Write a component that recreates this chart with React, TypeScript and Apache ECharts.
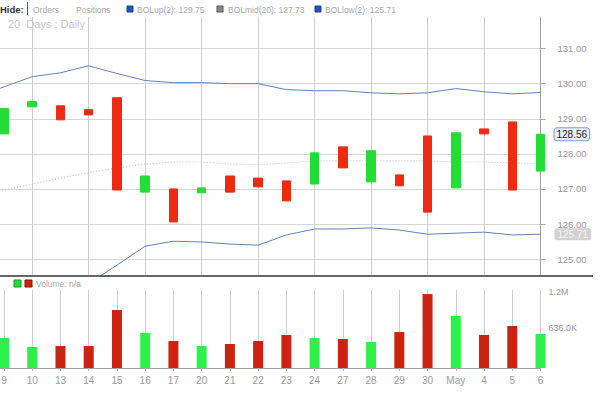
import React, { useEffect, useRef } from "react";
import * as echarts from "echarts";

const categories = ["8", "9", "10", "13", "14", "15", "16", "17", "20", "21", "22", "23", "24", "27", "28", "29", "30", "May", "4", "5", "6"];

const opens = [null, 128.57, 129.34, 129.37, 129.26, 129.6, 126.91, 127.0, 126.89, 127.37, 127.31, 127.23, 127.14, 128.2, 127.2, 127.4, 128.51, 127.03, 128.71, 128.91, 127.51];
const closes = [null, 129.29, 129.49, 128.97, 129.11, 126.97, 127.37, 126.06, 127.03, 126.91, 127.06, 126.66, 128.03, 127.6, 128.09, 127.09, 126.34, 128.6, 128.57, 126.97, 128.56];
const lows = [null, 128.57, 129.34, 128.97, 129.11, 126.97, 126.91, 126.06, 126.89, 126.91, 127.06, 126.66, 127.14, 127.6, 127.2, 127.09, 126.34, 127.03, 128.57, 126.97, 127.51];
const highs = [null, 129.29, 129.49, 129.37, 129.26, 129.6, 127.37, 127.0, 127.03, 127.37, 127.31, 127.23, 128.03, 128.2, 128.09, 127.4, 128.51, 128.6, 128.71, 128.91, 128.56];

const bolUp = [129.63, 129.91, 130.2, 130.31, 130.51, 130.29, 130.09, 130.03, 130.03, 130.0, 130.0, 129.83, 129.8, 129.8, 129.74, 129.71, 129.74, 129.86, 129.77, 129.71, 129.75];
const bolMid = [126.8, 126.97, 127.14, 127.31, 127.46, 127.6, 127.71, 127.77, 127.77, 127.71, 127.69, 127.74, 127.8, 127.8, 127.8, 127.8, 127.8, 127.77, 127.77, 127.74, 127.73];
const bolLow = [122.9, 123.2, 123.5, 123.8, 124.3, 124.83, 125.37, 125.51, 125.49, 125.43, 125.4, 125.69, 125.86, 125.86, 125.89, 125.83, 125.71, 125.74, 125.77, 125.69, 125.71];

const volumes = [null, 474000, 332000, 347000, 347000, 916000, 553000, 426000, 347000, 379000, 426000, 521000, 474000, 458000, 411000, 568000, 1168000, 821000, 521000, 663000, 537000];

const priceTicks = [125, 126, 127, 128, 129, 130, 131];
const volumeTicks = [636000, 1200000];

const lastPrice = 128.56;
const legendUp = "129.75";
const legendMid = "127.73";
const legendLow = "125.71";

const GREEN = "#22dd33";
const RED = "#ee2a12";
const VOL_GREEN = "#2ef04a";
const VOL_RED = "#cc2210";
const FONT = "'Liberation Sans', Arial, sans-serif";

export default function App() {
  const ref = useRef<HTMLDivElement>(null);

  useEffect(() => {
    if (!ref.current) return;
    const chart = echarts.init(ref.current, null, { renderer: "svg" });

    const candleData = categories.map((_, i) =>
      opens[i] == null ? "-" : [opens[i], closes[i], lows[i], highs[i]]
    );
    const volData = categories.map((_, i) =>
      volumes[i] == null
        ? "-"
        : {
            value: volumes[i],
            itemStyle: { color: (closes[i] as number) >= (opens[i] as number) ? VOL_GREEN : VOL_RED },
          }
    );

    const gridLeft = -24.24;
    const gridRight = 62.5;

    chart.setOption({
      animation: false,
      textStyle: { fontFamily: FONT },
      grid: [
        { left: gridLeft, right: gridRight, top: 17, height: 259, outerBoundsMode: "none", containLabel: false },
        { left: gridLeft, right: gridRight, top: 290, height: 78, outerBoundsMode: "none", containLabel: false },
      ],
      xAxis: [
        {
          type: "category",
          gridIndex: 0,
          data: categories,
          boundaryGap: false,
          axisLine: { show: false },
          axisTick: { show: false },
          axisLabel: { show: false },
          splitLine: { show: true, lineStyle: { color: "#cfcfcf", width: 1 } },
        },
        {
          type: "category",
          gridIndex: 1,
          data: categories,
          boundaryGap: false,
          axisLine: { show: true, lineStyle: { color: "#a0a0a0", width: 1 } },
          axisTick: { show: true, length: 3, lineStyle: { color: "#bbb" } },
          axisLabel: { color: "#999", fontSize: 10, margin: 7, hideOverlap: false },
          splitLine: { show: true, lineStyle: { color: "#cfcfcf", width: 1 } },
        },
      ],
      yAxis: [
        {
          type: "value",
          gridIndex: 0,
          position: "right",
          min: 124.52,
          max: 131.9,
          axisLine: { show: true, lineStyle: { color: "#a0a0a0", width: 1 } },
          axisTick: { show: true, length: 5, customValues: priceTicks, lineStyle: { color: "#aaa" } },
          axisLabel: {
            customValues: priceTicks,
            color: "#999",
            fontSize: 9.5,
            margin: 17,
            formatter: (v: number) => v.toFixed(2),
          },
          splitLine: { show: true, lineStyle: { color: "#d6d6d6", width: 1 } },
        },
        {
          type: "value",
          gridIndex: 1,
          position: "right",
          min: 0,
          max: 1232000,
          axisLine: { show: false },
          axisTick: { show: false, customValues: volumeTicks },
          axisLabel: {
            customValues: volumeTicks,
            color: "#999",
            fontSize: 9,
            margin: 8,
            formatter: (v: number) =>
              v >= 1000000 ? (v / 1000000).toFixed(1) + "M" : (v / 1000).toFixed(1) + "K",
          },
          splitLine: { show: false },
        },
      ],
      series: [
        {
          name: "BOLup(2)",
          type: "line",
          xAxisIndex: 0,
          yAxisIndex: 0,
          data: bolUp,
          symbol: "none",
          lineStyle: { color: "#5f83b8", width: 1 },
          z: 3,
        },
        {
          name: "BOLmid(20)",
          type: "line",
          xAxisIndex: 0,
          yAxisIndex: 0,
          data: bolMid,
          symbol: "none",
          lineStyle: { color: "#b8b8b8", width: 1, type: [1, 2] },
          z: 3,
        },
        {
          name: "BOLlow(2)",
          type: "line",
          xAxisIndex: 0,
          yAxisIndex: 0,
          data: bolLow,
          symbol: "none",
          lineStyle: { color: "#5f83b8", width: 1 },
          z: 3,
          markLine: {
            silent: true,
            symbol: ["none", "none"],
            lineStyle: { color: "transparent", width: 0 },
            data: [{ yAxis: bolLow[bolLow.length - 1] }],
            label: {
              show: true,
              position: "end",
              distance: 14,
              formatter: () => bolLow[bolLow.length - 1].toFixed(2),
              color: "#f4f4f4",
              fontSize: 10,
              backgroundColor: "#d2d2d2",
              padding: [1, 3],
              borderRadius: 2,
            },
          },
        },
        {
          name: "Price",
          type: "candlestick",
          xAxisIndex: 0,
          yAxisIndex: 0,
          data: candleData,
          barWidth: 9,
          z: 5,
          itemStyle: {
            color: GREEN,
            color0: RED,
            borderColor: GREEN,
            borderColor0: RED,
            borderWidth: 1,
          },
          markLine: {
            silent: true,
            symbol: ["none", "none"],
            lineStyle: { color: "transparent", width: 0 },
            data: [{ yAxis: lastPrice }],
            label: {
              show: true,
              position: "end",
              distance: 14,
              formatter: () => lastPrice.toFixed(2),
              color: "#222",
              fontSize: 10,
              backgroundColor: "#e8eef8",
              borderColor: "#7d9ccc",
              borderWidth: 1,
              borderRadius: 3,
              padding: [1, 2],
            },
          },
        },
        {
          name: "Volume",
          type: "bar",
          xAxisIndex: 1,
          yAxisIndex: 1,
          data: volData,
          barWidth: 10,
        },
      ],
      graphic: [
        {
          type: "line",
          shape: { x1: 0, y1: 276, x2: 593, y2: 276 },
          style: { stroke: "#666", lineWidth: 2 },
          z: 10,
        },
        { type: "text", x: 0, y: 4, style: { text: "Hide:", fill: "#333", font: `bold 9.5px ${FONT}` }, z: 10 },
        { type: "line", shape: { x1: 27.5, y1: 2, x2: 27.5, y2: 15 }, style: { stroke: "#555", lineWidth: 1 }, z: 10 },
        { type: "text", x: 33, y: 5, style: { text: "Orders", fill: "#aaa", font: `8.5px ${FONT}` }, z: 10 },
        { type: "text", x: 76, y: 5, style: { text: "Positions", fill: "#aaa", font: `8.5px ${FONT}` }, z: 10 },
        { type: "rect", shape: { x: 127, y: 6, width: 6, height: 6 }, style: { fill: "#2256c0", stroke: "#173f8e", lineWidth: 1 }, z: 10 },
        { type: "text", x: 137, y: 5, style: { text: "BOLup(2): " + legendUp, fill: "#aaa", font: `8.5px ${FONT}` }, z: 10 },
        { type: "rect", shape: { x: 217, y: 6, width: 6, height: 6 }, style: { fill: "#8a8a8a", stroke: "#555", lineWidth: 1 }, z: 10 },
        { type: "text", x: 228, y: 5, style: { text: "BOLmid(20): " + legendMid, fill: "#aaa", font: `8.5px ${FONT}` }, z: 10 },
        { type: "rect", shape: { x: 315, y: 6, width: 6, height: 6 }, style: { fill: "#2256c0", stroke: "#173f8e", lineWidth: 1 }, z: 10 },
        { type: "text", x: 325, y: 5, style: { text: "BOLlow(2): " + legendLow, fill: "#aaa", font: `8.5px ${FONT}` }, z: 10 },
        { type: "text", x: 8, y: 18, style: { text: "20  Days : Daily", fill: "#c8c8c8", font: `11px ${FONT}` }, z: 10 },
        { type: "rect", shape: { x: 14, y: 280, width: 7, height: 7 }, style: { fill: "#22dd33", stroke: "#1a9a2a", lineWidth: 1 }, z: 10 },
        { type: "rect", shape: { x: 25, y: 280, width: 7, height: 7 }, style: { fill: "#cc2210", stroke: "#801408", lineWidth: 1 }, z: 10 },
        { type: "text", x: 36, y: 279, style: { text: "Volume: n/a", fill: "#aaa", font: `8.5px ${FONT}` }, z: 10 },
      ],
    });

    return () => chart.dispose();
  }, []);

  return (
    <div
      ref={ref}
      style={{ position: "fixed", left: 0, top: 0, width: 603, height: 396, background: "#fff" }}
    />
  );
}
